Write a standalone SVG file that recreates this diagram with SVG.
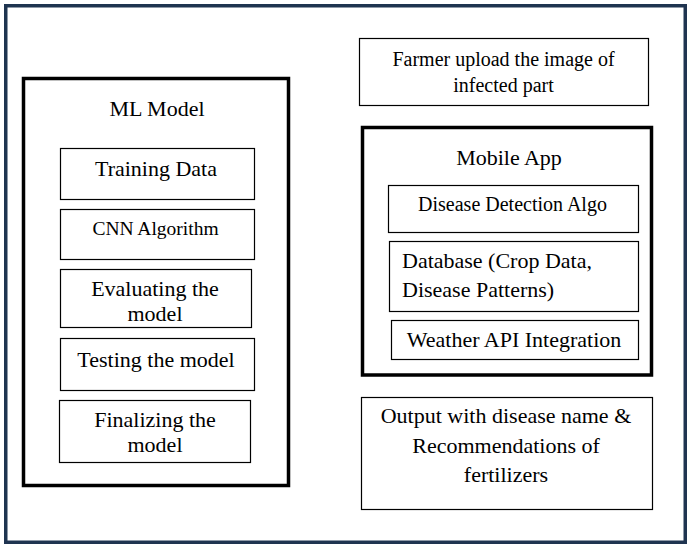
<svg xmlns="http://www.w3.org/2000/svg" width="692" height="550" viewBox="0 0 692 550">
<style>
text{font-family:"Liberation Serif","Times New Roman",serif;fill:#000;text-anchor:middle}
.thin{fill:#fff;stroke:#000;stroke-width:1.2}
.thick{fill:#fff;stroke:#000;stroke-width:3.5}
.f22{font-size:22px}
.f20{font-size:20px}
.f19{font-size:19.5px}
</style>
<rect x="0" y="0" width="692" height="550" fill="#fff"/>
<rect id="frame" x="5.75" y="5.75" width="679.5" height="536.5" fill="#fff" stroke="#1f3450" stroke-width="3.5"/>
<g id="connectors"></g>
<g id="ml-model">
<rect class="thick" x="23.5" y="78.5" width="265" height="407"/>
<text class="f22" x="157" y="116">ML Model</text>
</g>
<g id="training-data">
<rect class="thin" x="60.5" y="148.5" width="194" height="51"/>
<text class="f22" x="156" y="176">Training Data</text>
</g>
<g id="cnn-algorithm">
<rect class="thin" x="60.5" y="209.5" width="194" height="50"/>
<text class="f19" x="155.5" y="235">CNN Algorithm</text>
</g>
<g id="evaluating">
<rect class="thin" x="60.5" y="269.5" width="191" height="58"/>
<text class="f22" x="155" y="296">Evaluating the</text>
<text class="f22" x="155" y="321">model</text>
</g>
<g id="testing">
<rect class="thin" x="60.5" y="338.5" width="194" height="52"/>
<text class="f22" x="156" y="367">Testing the model</text>
</g>
<g id="finalizing">
<rect class="thin" x="59.5" y="400.5" width="191" height="62"/>
<text class="f22" x="155" y="427">Finalizing the</text>
<text class="f22" x="155" y="452">model</text>
</g>
<g id="farmer-upload">
<rect class="thin" x="359.5" y="38.5" width="289" height="67"/>
<text class="f20" x="503.5" y="66">Farmer upload the image of</text>
<text class="f20" x="503.5" y="92">infected part</text>
</g>
<g id="mobile-app">
<rect class="thick" x="362.5" y="127.5" width="289" height="247.5"/>
<text class="f22" x="509" y="165">Mobile App</text>
</g>
<g id="disease-detection">
<rect class="thin" x="388.5" y="185.5" width="250" height="47"/>
<text class="f20" x="512.5" y="211">Disease Detection Algo</text>
</g>
<g id="database">
<rect class="thin" x="389.5" y="241.5" width="249" height="70"/>
<text class="f22" x="402" y="268" style="text-anchor:start">Database (Crop Data,</text>
<text class="f22" x="402" y="297" style="text-anchor:start">Disease Patterns)</text>
</g>
<g id="weather-api">
<rect class="thin" x="391.5" y="320.5" width="247" height="39"/>
<text class="f22" x="514" y="347">Weather API Integration</text>
</g>
<g id="output">
<rect class="thin" x="361.5" y="397.5" width="291" height="112"/>
<text class="f22" x="506" y="423">Output with disease name &amp;</text>
<text class="f22" x="506" y="453">Recommendations of</text>
<text class="f22" x="506" y="482">fertilizers</text>
</g>
</svg>
